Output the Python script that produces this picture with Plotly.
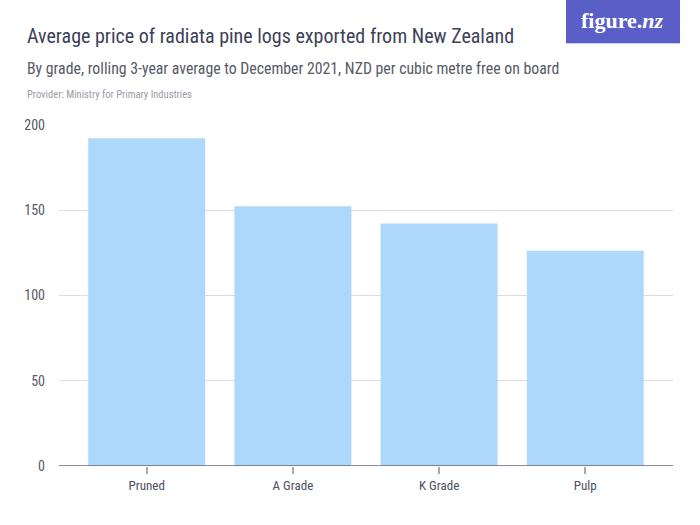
import plotly.graph_objects as go

categories = ["Pruned", "A Grade", "K Grade", "Pulp"]
values = [192.3, 152.4, 142.2, 126.3]
y_ticks = [0, 50, 100, 150, 200]

title = "Average price of radiata pine logs exported from New Zealand"
subtitle = "By grade, rolling 3-year average to December 2021, NZD per cubic metre free on board"
provider = "Provider: Ministry for Primary Industries"

FONT = "Roboto Condensed, DejaVu Sans Condensed, Liberation Sans Narrow, Roboto"

L, R, T, B = 59, 27, 125, 59
PW, PH = 700 - L - R, 525 - T - B


def px(xp):
    return (xp - L) / PW


def py(yp):
    return (525 - B - yp) / PH


fig = go.Figure()
fig.add_trace(go.Bar(x=list(range(len(categories))), y=values,
                     marker=dict(color="#add8fb", line=dict(width=0)),
                     hoverinfo="skip"))

fig.update_layout(
    width=700, height=525,
    margin=dict(l=L, r=R, t=T, b=B),
    paper_bgcolor="white", plot_bgcolor="white",
    showlegend=False, bargap=0.2,
    font=dict(family=FONT, color="#555a66"),
    xaxis=dict(range=[-0.6, 3.6], tickmode="array",
               tickvals=list(range(len(categories))), ticktext=categories,
               showgrid=False, zeroline=False, showline=False,
               ticks="outside", ticklen=7, tickcolor="#aaaaaa", tickwidth=1.5,
               tickfont=dict(size=13, color="#4b5063", family=FONT)),
    yaxis=dict(range=[0, 200], tickvals=y_ticks, showgrid=True,
               gridcolor="#dddddd", gridwidth=1, zeroline=False,
               showline=False, ticks="", ticklabelstandoff=13,
               tickfont=dict(size=14, color="#555a66", family=FONT)),
)

fig.add_shape(type="line", xref="paper", yref="y", x0=0, x1=1, y0=0, y1=0,
              line=dict(color="#666a75", width=1.5), layer="above")

fig.add_annotation(text=title, xref="paper", yref="paper", x=px(25), y=py(36),
                   xanchor="left", yanchor="middle", showarrow=False,
                   font=dict(size=20, color="#3c4158", family=FONT))
fig.add_annotation(text=subtitle, xref="paper", yref="paper", x=px(25), y=py(69),
                   xanchor="left", yanchor="middle", showarrow=False,
                   font=dict(size=15.8, color="#555a66", family=FONT))
fig.add_annotation(text=provider, xref="paper", yref="paper", x=px(25), y=py(94),
                   xanchor="left", yanchor="middle", showarrow=False,
                   font=dict(size=10.5, color="#9a9ca5", family=FONT))

# logo
fig.add_shape(type="rect", xref="paper", yref="paper",
              x0=px(566), x1=px(680), y0=py(43), y1=py(0),
              line=dict(width=0), fillcolor="#5a5fc8", layer="above")
fig.add_shape(type="line", xref="paper", yref="paper",
              x0=px(566), x1=px(680), y0=py(43.5), y1=py(43.5),
              line=dict(width=1, color="#c9cbee"), layer="above")
fig.add_annotation(text="<b>figure.<i>nz</i></b>", xref="paper", yref="paper",
                   x=px(622), y=py(20),
                   xanchor="center", yanchor="middle", showarrow=False,
                   font=dict(size=22, color="white", family="Liberation Serif"))

fig.write_html("out.html", config={"displayModeBar": False},
               post_script="document.body.style.margin='0';")
